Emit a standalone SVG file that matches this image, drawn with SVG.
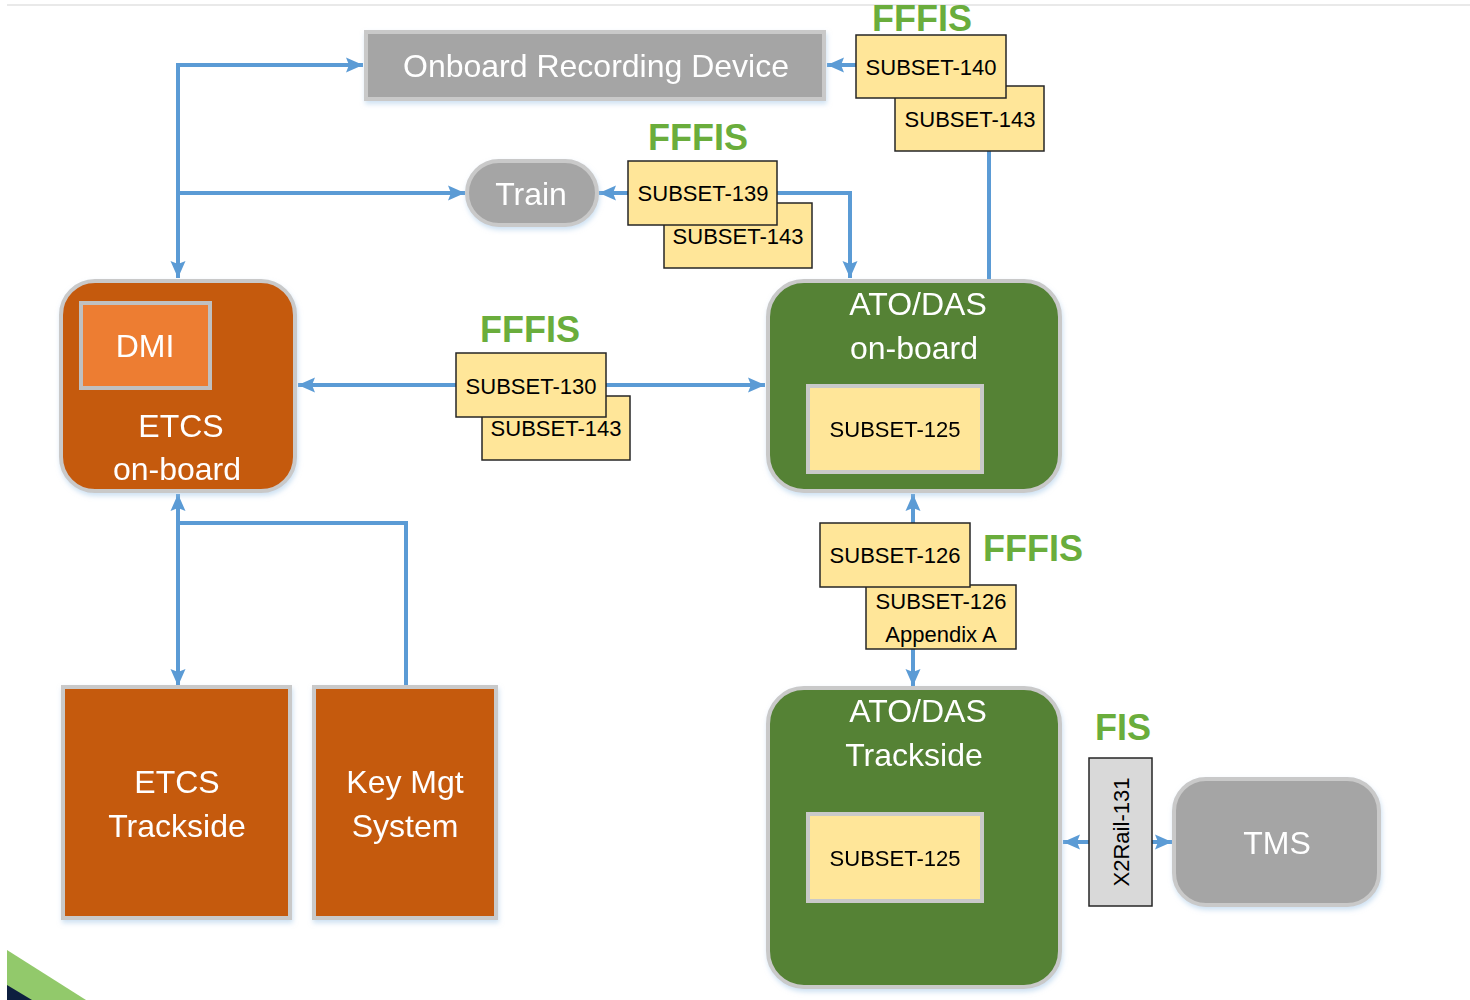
<svg xmlns="http://www.w3.org/2000/svg" width="1470" height="1000" viewBox="0 0 1470 1000">
<style>
.big{font-family:"Liberation Sans",Arial,sans-serif;font-size:32px;fill:#ffffff;text-anchor:middle}
.lbl{font-family:"Liberation Sans",Arial,sans-serif;font-size:22px;fill:#000000;text-anchor:middle}
.ff{font-family:"Liberation Sans",Arial,sans-serif;font-size:36px;font-weight:bold;fill:#6aad3c;text-anchor:middle}
.tag{fill:#ffe699;stroke:#262626;stroke-width:1.5}
.grey{fill:#a5a5a5;stroke:#c9c9c9;stroke-width:4}
.orange{fill:#c55a11;stroke:#c9c9c9;stroke-width:4}
.green{fill:#548235;stroke:#c9c9c9;stroke-width:4}
.inner{fill:#ffe699;stroke:#c9c9c9;stroke-width:4}
.conn{fill:none;stroke:#5b9bd5;stroke-width:4}
</style>
<defs>
<marker id="ah" markerUnits="userSpaceOnUse" markerWidth="18" markerHeight="18" refX="17" refY="9" orient="auto-start-reverse">
<path d="M0,1.5 L17,9 L0,16.5 L3,9 Z" fill="#5b9bd5"/>
</marker>
<filter id="sh" x="-10%" y="-10%" width="125%" height="125%">
<feDropShadow dx="1" dy="3" stdDeviation="2.5" flood-color="#9dc3e6" flood-opacity="0.5"/>
</filter>
</defs>
<rect width="1470" height="1000" fill="#ffffff"/>
<line x1="7" y1="5" x2="1470" y2="5" stroke="#e2e2e2" stroke-width="1.5"/>
<polygon points="7,950 86,1000 7,1000" fill="#92c96b"/>
<polygon points="7,985 32,1000 7,1000" fill="#0d1f3f"/>

<g id="connectors">
<path class="conn" d="M178,278 L178,65 L363,65" marker-start="url(#ah)" marker-end="url(#ah)"/>
<path class="conn" d="M178,193 L465,193" marker-end="url(#ah)"/>
<path class="conn" d="M856,65 L827,65" marker-end="url(#ah)"/>
<path class="conn" d="M989,151 L989,280"/>
<path class="conn" d="M628,193 L599,193" marker-end="url(#ah)"/>
<path class="conn" d="M777,193 L850,193 L850,278" marker-end="url(#ah)"/>
<path class="conn" d="M456,385 L298,385" marker-end="url(#ah)"/>
<path class="conn" d="M606,385 L765,385" marker-end="url(#ah)"/>
<path class="conn" d="M178,494 L178,686" marker-start="url(#ah)" marker-end="url(#ah)"/>
<path class="conn" d="M178,523 L406,523 L406,686"/>
<path class="conn" d="M913,494 L913,686" marker-start="url(#ah)" marker-end="url(#ah)"/>
<path class="conn" d="M1089,842 L1063,842" marker-end="url(#ah)"/>
<path class="conn" d="M1152,842 L1172,842" marker-end="url(#ah)"/>
</g>

<g id="ord" filter="url(#sh)">
<rect class="grey" x="366" y="32" width="458" height="67"/>
<text class="big" x="596" y="77">Onboard Recording Device</text>
</g>
<g id="train" filter="url(#sh)">
<rect class="grey" x="467" y="161" width="130" height="64" rx="32"/>
<text class="big" x="531" y="205">Train</text>
</g>
<g id="etcs-onboard" filter="url(#sh)">
<rect class="orange" x="61" y="281" width="234" height="210" rx="34"/>
<rect x="81" y="303" width="129" height="85" fill="#ed7d31" stroke="#c0c0c0" stroke-width="4"/>
<text class="big" x="145" y="357">DMI</text>
<text class="big" x="181" y="437">ETCS</text>
<text class="big" x="177" y="480">on-board</text>
</g>
<g id="ato-onboard" filter="url(#sh)">
<rect class="green" x="768" y="281" width="292" height="210" rx="36"/>
<text class="big" x="918" y="315">ATO/DAS</text>
<text class="big" x="914" y="359">on-board</text>
<rect class="inner" x="808" y="386" width="174" height="86"/>
<text class="lbl" x="895" y="437">SUBSET-125</text>
</g>
<g id="etcs-trackside" filter="url(#sh)">
<rect class="orange" x="63" y="687" width="227" height="231"/>
<text class="big" x="177" y="793">ETCS</text>
<text class="big" x="177" y="837">Trackside</text>
</g>
<g id="keymgt" filter="url(#sh)">
<rect class="orange" x="314" y="687" width="182" height="231"/>
<text class="big" x="405" y="793">Key Mgt</text>
<text class="big" x="405" y="837">System</text>
</g>
<g id="ato-trackside" filter="url(#sh)">
<rect class="green" x="768" y="688" width="292" height="299" rx="36"/>
<text class="big" x="918" y="722">ATO/DAS</text>
<text class="big" x="914" y="766">Trackside</text>
<rect class="inner" x="808" y="814" width="174" height="87"/>
<text class="lbl" x="895" y="866">SUBSET-125</text>
</g>
<g id="tms" filter="url(#sh)">
<rect class="grey" x="1174" y="779" width="205" height="126" rx="32"/>
<text class="big" x="1277" y="854">TMS</text>
</g>

<g id="if-ord">
<text class="ff" x="922" y="31">FFFIS</text>
<rect class="tag" x="895" y="86" width="149" height="65"/>
<text class="lbl" x="970" y="127">SUBSET-143</text>
<rect class="tag" x="856" y="35" width="150" height="63"/>
<text class="lbl" x="931" y="75">SUBSET-140</text>
</g>
<g id="if-train">
<text class="ff" x="698" y="150">FFFIS</text>
<rect class="tag" x="664" y="203" width="148" height="65"/>
<text class="lbl" x="738" y="244">SUBSET-143</text>
<rect class="tag" x="628" y="161" width="149" height="64"/>
<text class="lbl" x="703" y="201">SUBSET-139</text>
</g>
<g id="if-etcs">
<text class="ff" x="530" y="342">FFFIS</text>
<rect class="tag" x="482" y="396" width="148" height="64"/>
<text class="lbl" x="556" y="436">SUBSET-143</text>
<rect class="tag" x="456" y="353" width="150" height="64"/>
<text class="lbl" x="531" y="394">SUBSET-130</text>
</g>
<g id="if-track">
<text class="ff" x="1033" y="561">FFFIS</text>
<rect class="tag" x="866" y="585" width="150" height="64"/>
<text class="lbl" x="941" y="609">SUBSET-126</text>
<text class="lbl" x="941" y="642">Appendix A</text>
<rect class="tag" x="820" y="523" width="150" height="64"/>
<text class="lbl" x="895" y="563">SUBSET-126</text>
</g>
<g id="if-tms">
<text class="ff" x="1123" y="740">FIS</text>
<rect x="1089" y="758" width="63" height="148" fill="#d9d9d9" stroke="#262626" stroke-width="1.5"/>
<text class="lbl" x="0" y="0" font-size="23" transform="translate(1129,832) rotate(-90)">X2Rail-131</text>
</g>
</svg>
